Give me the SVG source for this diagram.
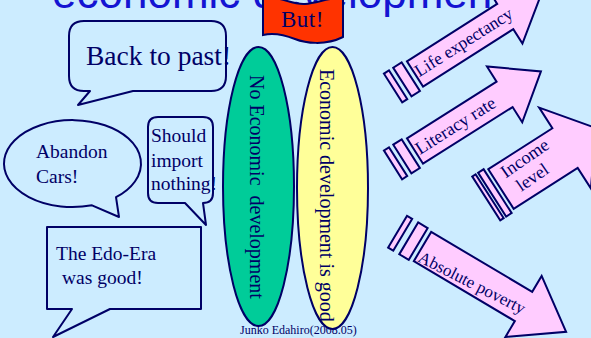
<svg xmlns="http://www.w3.org/2000/svg" width="591" height="338" viewBox="0 0 591 338">
<style>
.bub{fill:#ccecff;stroke:#000066;stroke-width:2;stroke-linejoin:round}
.arr{fill:#ffccff;stroke:#000066;stroke-width:2;stroke-linejoin:miter}
.t{font-family:"Liberation Serif","Times New Roman",serif;fill:#000066}
.ell{stroke:#000066;stroke-width:2}
</style>
<rect x="0" y="0" width="591" height="338" fill="#ccecff"/>
<g id="title">
<text x="52" y="8" font-family="Liberation Sans, Arial, sans-serif" font-size="44" fill="#1414d2">economic development</text>
</g>
<g id="back-to-past">
<path class="bub" d="M84,21 H211 Q226,21 226,36 V76 Q226,91 211,91 H133 L78,105 L90,91 H84 Q69,91 69,76 V36 Q69,21 84,21 Z"/>
<text class="t" x="86" y="65" font-size="27.5">Back to past!</text>
</g>
<g id="abandon-cars">
<path class="bub" d="M116,197.2 L119,217 L92,205.3 A68.5,43.5 0 1 1 116,197.2 Z"/>
<text class="t" x="36" y="158" font-size="19.5">Abandon</text>
<text class="t" x="36" y="183" font-size="19.5">Cars!</text>
</g>
<g id="should-import">
<path class="bub" d="M158,117 H203 Q213,117 213,127 V193 Q213,203 203,203 L206,225 L185,203 H158 Q148,203 148,193 V127 Q148,117 158,117 Z"/>
<text class="t" x="151" y="142" font-size="19.5">Should</text>
<text class="t" x="151" y="167" font-size="19.5">import</text>
<text class="t" x="151" y="190" font-size="19.5">nothing!</text>
</g>
<g id="edo-era">
<path class="bub" d="M47,227 H201 V309 H110 L53,337 L72,309 H47 Z"/>
<text class="t" x="56" y="260" font-size="19.5">The Edo-Era</text>
<text class="t" x="62" y="284" font-size="19.5">was good!</text>
</g>
<g id="but-banner">
<path d="M263,-3 C280,-4 292,5 305,4 C318,3 330,-3 343,-2 L343,37 C325,46 305,43 295,39 C285,35 275,32 263,35 Z" fill="#ff3300" stroke="#000066" stroke-width="2"/>
<text class="t" x="281" y="27" font-size="23" letter-spacing="0.5">But!</text>
</g>
<g id="footer">
<text class="t" x="240" y="334" font-size="12">Junko Edahiro(2008.05)</text>
</g>
<g id="no-economic-development">
<ellipse class="ell" cx="258.5" cy="186.5" rx="35.5" ry="139.5" fill="#00cc99"/>
<text class="t" transform="translate(250,75) rotate(90)" font-size="20" xml:space="preserve">No Economic  development</text>
</g>
<g id="economic-development-good">
<ellipse class="ell" cx="332.5" cy="188" rx="35.5" ry="141" fill="#ffff99"/>
<text class="t" transform="translate(320,69) rotate(90)" font-size="20">Economic development is good</text>
</g>
<g id="arrow-life-expectancy" transform="translate(415,74) rotate(-32.5)">
<rect class="arr" x="-26" y="-17" width="6" height="34"/>
<rect class="arr" x="-15" y="-17" width="10" height="34"/>
<polygon class="arr" points="0,-15 107,-15 107,-32 150,0 107,32 107,15 0,15"/>
<text class="t" x="2" y="5" font-size="17.5">Life expectancy</text>
</g>
<g id="arrow-literacy-rate" transform="translate(415,151) rotate(-32.3)">
<rect class="arr" x="-26" y="-17" width="6" height="34"/>
<rect class="arr" x="-15" y="-17" width="10" height="34"/>
<polygon class="arr" points="0,-15 106,-15 106,-33 149,0 106,33 106,15 0,15"/>
<text class="t" x="2" y="6" font-size="18">Literacy rate</text>
</g>
<g id="arrow-income-level" transform="translate(501,189) rotate(-32.6)">
<rect class="arr" x="-17.5" y="-26" width="4" height="52"/>
<rect class="arr" x="-10.5" y="-26" width="6.5" height="52"/>
<polygon class="arr" points="0,-23.5 76,-23.5 76,-48 113,0 76,48 76,23.5 0,23.5"/>
<text class="t" x="10" y="-6" font-size="18" transform="rotate(-2)">Income</text>
<text class="t" x="15" y="14" font-size="18" transform="rotate(-2)">level</text>
</g>
<g id="arrow-absolute-poverty">
<g transform="translate(422.5,246.5) rotate(30.7)">
<rect class="arr" x="-29" y="-18.5" width="6" height="37"/>
<rect class="arr" x="-16" y="-18.5" width="11" height="37"/>
<polygon class="arr" points="0,-17 117.5,-17 117.5,-35.5 167,0 117.5,35.5 117.5,17 0,17"/>
</g>
<text class="t" transform="translate(417,261) rotate(27)" font-size="17">Absolute poverty</text>
</g>
<g id="connectors"/>
</svg>
